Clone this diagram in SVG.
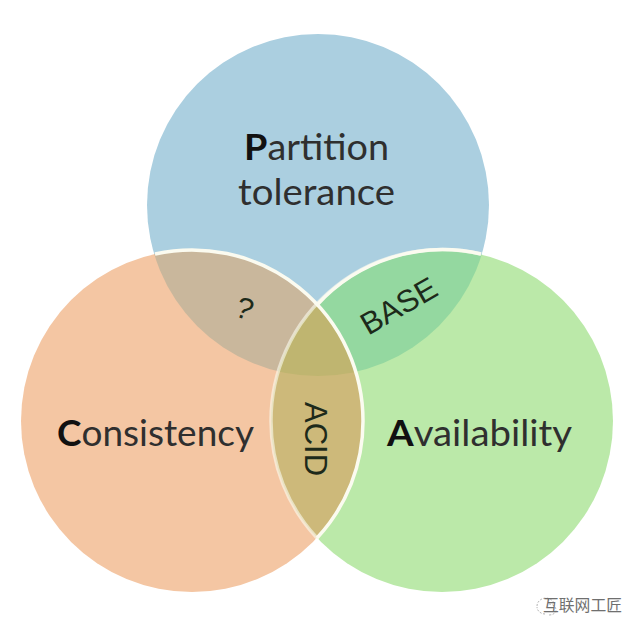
<svg xmlns="http://www.w3.org/2000/svg" width="642" height="634" viewBox="0 0 642 634">
<style>
.m{font-family:Lato,"Liberation Sans",sans-serif;font-size:37px;fill:#2f2f2f}
.b{font-weight:700;fill:#111}
.s{font-family:"Liberation Sans",Arial,sans-serif;font-size:31px;fill:#1d2a1a}
.e{fill:none;stroke:#fbfbf0;stroke-width:3.500}
.w{font-family:"Noto Sans CJK SC",sans-serif;font-size:16px;fill:#6f6f6f}
</style>
<defs>
<clipPath id="cL"><circle cx="192" cy="421" r="171"/></clipPath>
<clipPath id="cR"><circle cx="442" cy="421" r="171"/></clipPath>
<filter id="soft" x="-5%" y="-5%" width="110%" height="110%"><feGaussianBlur stdDeviation="0.7"/></filter>
</defs>
<rect width="642" height="634" fill="#fff"/>
<g filter="url(#soft)">
<g id="partition-tolerance">
<circle cx="318" cy="205" r="171" fill="#abcfe0"/>
</g>
<g id="consistency">
<circle cx="192" cy="421" r="171" fill="#f4c6a3"/>
<g clip-path="url(#cL)"><circle cx="318" cy="205" r="171" fill="#c9b79c"/></g>
</g>
<g id="availability">
<circle cx="442" cy="421" r="171" fill="#bbe9a9"/>
<g clip-path="url(#cR)"><circle cx="318" cy="205" r="171" fill="#94d8a0"/></g>
</g>
<g id="acid-region">
<g clip-path="url(#cL)"><g clip-path="url(#cR)">
<rect x="260" y="290" width="120" height="260" fill="#cdb97a"/>
<circle cx="318" cy="205" r="171" fill="#bfb56f"/>
</g></g>
</g>
<g id="connectors">
<path class="e" d="M155 254A171 171 0 0 1 363 421A171 171 0 0 1 317 538"/>
<path class="e" d="M481 254A171 171 0 0 0 271 421A171 171 0 0 0 317 538" stroke-width="1.500" stroke-opacity="0.600"/>
<path class="e" d="M481 254A171 171 0 0 0 317 305" stroke-width="3"/>
</g>
</g>
<g filter="url(#soft)" style="filter:none">
<text class="m" x="316.500" y="160" text-anchor="middle" textLength="145" lengthAdjust="spacingAndGlyphs"><tspan class="b">P</tspan>artition</text>
<text class="m" x="316.500" y="205" text-anchor="middle" textLength="157" lengthAdjust="spacingAndGlyphs">tolerance</text>
<text class="m" x="57" y="446" textLength="197" lengthAdjust="spacingAndGlyphs"><tspan class="b">C</tspan>onsistency</text>
<text class="m" x="387" y="446" textLength="185" lengthAdjust="spacingAndGlyphs"><tspan class="b">A</tspan>vailability</text>
<text class="s" style="font-size:30px" text-anchor="middle" transform="translate(241,318) rotate(20)">?</text>
<text class="s" text-anchor="middle" transform="translate(404,315) rotate(-30)">BASE</text>
<text class="s" text-anchor="middle" transform="translate(305,439) rotate(90)">ACID</text>
</g>
<g id="watermark">
<path d="M537 606c0-5 5-8 9-8s8 3 8 6M545 614c-4 0-8-3-8-7M549 604c4 0 7 3 7 6s-3 5-7 5" fill="none" stroke="#b5b5b5" stroke-width="1" stroke-dasharray="2 1.500"/>
<text class="w" x="543" y="611" textLength="79" lengthAdjust="spacingAndGlyphs">互联网工匠</text>
</g>
</svg>
